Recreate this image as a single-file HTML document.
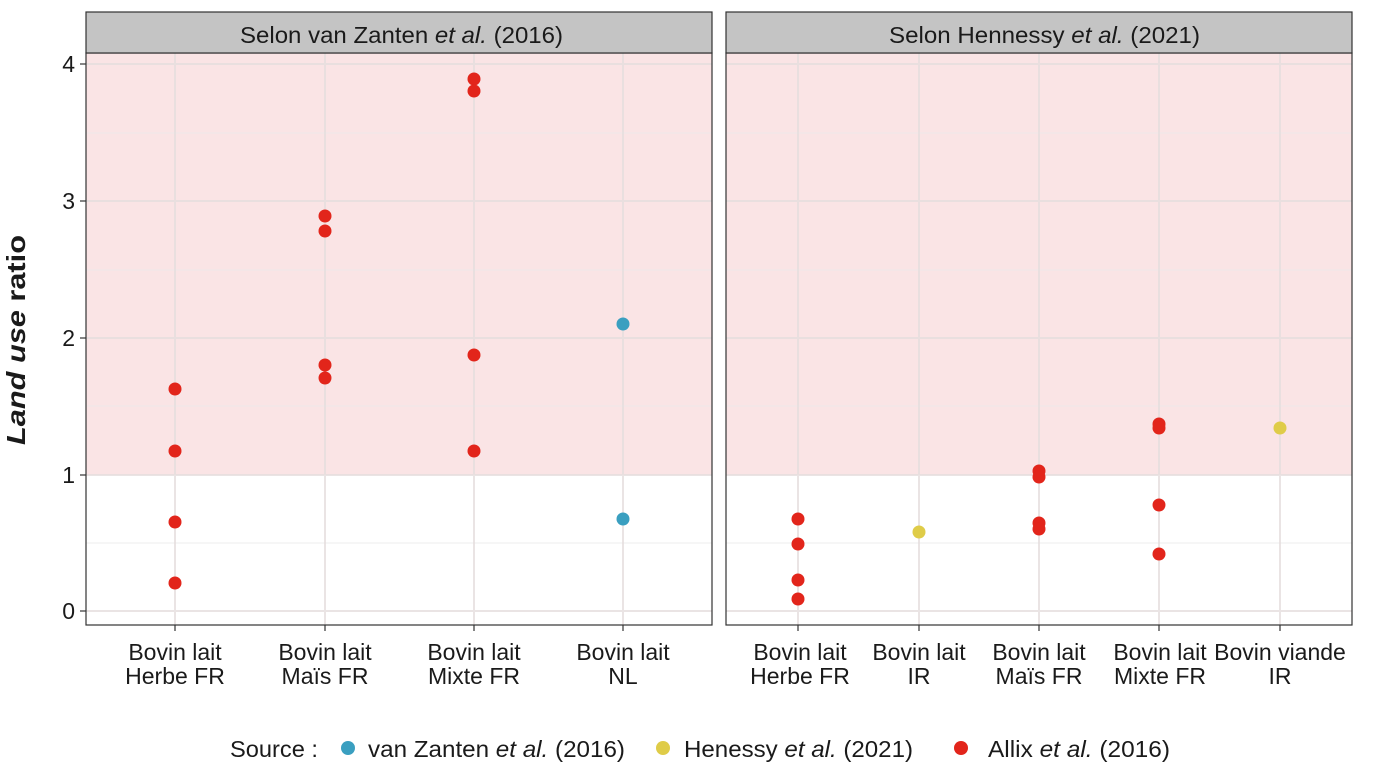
<!DOCTYPE html>
<html><head><meta charset="utf-8"><style>body{margin:0;background:#fff}svg{display:block;font-family:"Liberation Sans",Arial,sans-serif}</style></head><body>
<svg width="1387" height="777" viewBox="0 0 1387 777" xmlns="http://www.w3.org/2000/svg">
<g>
<rect x="86" y="53" width="626" height="572" fill="#fff"/>
<rect x="86" y="53" width="626" height="422" fill="#fae4e5"/>
<g stroke="#ebebeb" stroke-width="1.1" opacity="0.8">
<line x1="86" x2="712" y1="543" y2="543"/><line x1="86" x2="712" y1="406" y2="406"/><line x1="86" x2="712" y1="270" y2="270"/><line x1="86" x2="712" y1="133" y2="133"/>
</g>
<g stroke="#e6dede" stroke-width="2" opacity="0.8">
<line x1="86" x2="712" y1="611" y2="611"/><line x1="86" x2="712" y1="475" y2="475"/><line x1="86" x2="712" y1="338" y2="338"/><line x1="86" x2="712" y1="201" y2="201"/><line x1="86" x2="712" y1="64" y2="64"/>
<line x1="175" x2="175" y1="53" y2="625"/><line x1="325" x2="325" y1="53" y2="625"/><line x1="474" x2="474" y1="53" y2="625"/><line x1="623" x2="623" y1="53" y2="625"/>
</g>
<g fill="#e2251b">
<circle cx="175" cy="389" r="6.5"/><circle cx="175" cy="451" r="6.5"/><circle cx="175" cy="522" r="6.5"/><circle cx="175" cy="583" r="6.5"/>
<circle cx="325" cy="216" r="6.5"/><circle cx="325" cy="231" r="6.5"/><circle cx="325" cy="365" r="6.5"/><circle cx="325" cy="378" r="6.5"/>
<circle cx="474" cy="79" r="6.5"/><circle cx="474" cy="91" r="6.5"/><circle cx="474" cy="355" r="6.5"/><circle cx="474" cy="451" r="6.5"/>
</g>
<g fill="#3a9fc0"><circle cx="623" cy="324" r="6.5"/><circle cx="623" cy="519" r="6.5"/></g>
<rect x="86" y="53" width="626" height="572" fill="none" stroke="#333" stroke-width="1.2"/>
<rect x="86" y="12" width="626" height="41" fill="#c4c4c4" stroke="#333" stroke-width="1.2"/>
<text x="240" y="43" font-size="23" fill="#1a1a1a" textLength="323" lengthAdjust="spacingAndGlyphs">Selon van Zanten <tspan font-style="italic">et al.</tspan> (2016)</text>
</g>
<g>
<rect x="726" y="53" width="626" height="572" fill="#fff"/>
<rect x="726" y="53" width="626" height="422" fill="#fae4e5"/>
<g stroke="#ebebeb" stroke-width="1.1" opacity="0.8">
<line x1="726" x2="1352" y1="543" y2="543"/><line x1="726" x2="1352" y1="406" y2="406"/><line x1="726" x2="1352" y1="270" y2="270"/><line x1="726" x2="1352" y1="133" y2="133"/>
</g>
<g stroke="#e6dede" stroke-width="2" opacity="0.8">
<line x1="726" x2="1352" y1="611" y2="611"/><line x1="726" x2="1352" y1="475" y2="475"/><line x1="726" x2="1352" y1="338" y2="338"/><line x1="726" x2="1352" y1="201" y2="201"/><line x1="726" x2="1352" y1="64" y2="64"/>
<line x1="798" x2="798" y1="53" y2="625"/><line x1="919" x2="919" y1="53" y2="625"/><line x1="1039" x2="1039" y1="53" y2="625"/><line x1="1159" x2="1159" y1="53" y2="625"/><line x1="1280" x2="1280" y1="53" y2="625"/>
</g>
<g fill="#e2251b">
<circle cx="798" cy="519" r="6.5"/><circle cx="798" cy="544" r="6.5"/><circle cx="798" cy="580" r="6.5"/><circle cx="798" cy="599" r="6.5"/>
<circle cx="1039" cy="471" r="6.5"/><circle cx="1039" cy="477" r="6.5"/><circle cx="1039" cy="523" r="6.5"/><circle cx="1039" cy="529" r="6.5"/>
<circle cx="1159" cy="424" r="6.5"/><circle cx="1159" cy="428" r="6.5"/><circle cx="1159" cy="505" r="6.5"/><circle cx="1159" cy="554" r="6.5"/>
</g>
<g fill="#dfcc48"><circle cx="919" cy="532" r="6.5"/><circle cx="1280" cy="428" r="6.5"/></g>
<rect x="726" y="53" width="626" height="572" fill="none" stroke="#333" stroke-width="1.2"/>
<rect x="726" y="12" width="626" height="41" fill="#c4c4c4" stroke="#333" stroke-width="1.2"/>
<text x="889" y="43" font-size="23" fill="#1a1a1a" textLength="311" lengthAdjust="spacingAndGlyphs">Selon Hennessy <tspan font-style="italic">et al.</tspan> (2021)</text>
</g>
<g stroke="#333" stroke-width="1.2">
<line x1="80" x2="86" y1="611" y2="611"/><line x1="80" x2="86" y1="475" y2="475"/><line x1="80" x2="86" y1="338" y2="338"/><line x1="80" x2="86" y1="201" y2="201"/><line x1="80" x2="86" y1="64" y2="64"/>
<line x1="175" x2="175" y1="625" y2="631"/><line x1="325" x2="325" y1="625" y2="631"/><line x1="474" x2="474" y1="625" y2="631"/><line x1="623" x2="623" y1="625" y2="631"/>
<line x1="798" x2="798" y1="625" y2="631"/><line x1="919" x2="919" y1="625" y2="631"/><line x1="1039" x2="1039" y1="625" y2="631"/><line x1="1159" x2="1159" y1="625" y2="631"/><line x1="1280" x2="1280" y1="625" y2="631"/>
</g>
<g font-size="23" fill="#1a1a1a" text-anchor="end">
<text x="75" y="619">0</text><text x="75" y="483">1</text><text x="75" y="346">2</text><text x="75" y="209">3</text><text x="75" y="72">4</text>
</g>
<text transform="translate(25,340) rotate(-90)" font-size="26" font-weight="bold" text-anchor="middle" fill="#1a1a1a" textLength="210" lengthAdjust="spacingAndGlyphs"><tspan font-style="italic">Land use</tspan> ratio</text>
<g font-size="23" fill="#1a1a1a" text-anchor="middle">
<text x="175" y="660">Bovin lait</text><text x="175" y="684">Herbe FR</text>
<text x="325" y="660">Bovin lait</text><text x="325" y="684">Maïs FR</text>
<text x="474" y="660">Bovin lait</text><text x="474" y="684">Mixte FR</text>
<text x="623" y="660">Bovin lait</text><text x="623" y="684">NL</text>
<text x="800" y="660">Bovin lait</text><text x="800" y="684">Herbe FR</text>
<text x="919" y="660">Bovin lait</text><text x="919" y="684">IR</text>
<text x="1039" y="660">Bovin lait</text><text x="1039" y="684">Maïs FR</text>
<text x="1160" y="660">Bovin lait</text><text x="1160" y="684">Mixte FR</text>
<text x="1280" y="660">Bovin viande</text><text x="1280" y="684">IR</text>
</g>
<g font-size="23" fill="#1a1a1a">
<text x="230" y="757" textLength="88" lengthAdjust="spacingAndGlyphs">Source :</text>
<circle cx="348" cy="748" r="7" fill="#3a9fc0"/>
<text x="368" y="757" textLength="257" lengthAdjust="spacingAndGlyphs">van Zanten <tspan font-style="italic">et al.</tspan> (2016)</text>
<circle cx="663" cy="748" r="7" fill="#dfcc48"/>
<text x="684" y="757" textLength="229" lengthAdjust="spacingAndGlyphs">Henessy <tspan font-style="italic">et al.</tspan> (2021)</text>
<circle cx="961" cy="748" r="7" fill="#e2251b"/>
<text x="988" y="757" textLength="182" lengthAdjust="spacingAndGlyphs">Allix <tspan font-style="italic">et al.</tspan> (2016)</text>
</g>
</svg>
</body></html>
